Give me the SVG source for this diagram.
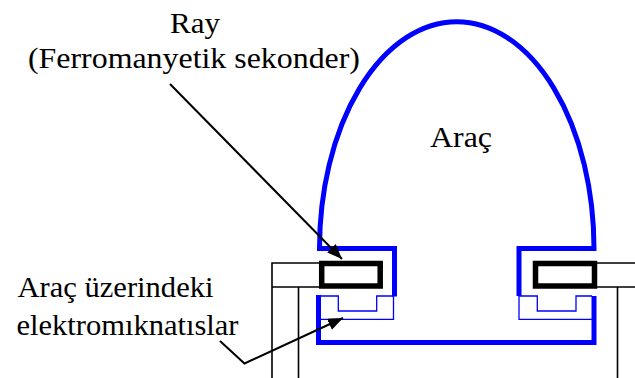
<svg xmlns="http://www.w3.org/2000/svg" width="635" height="378" viewBox="0 0 635 378">
  <style>
    text { font-family: 'Liberation Serif', 'DejaVu Serif', serif; font-size: 30px; fill: #000; }
    .hull { fill: none; stroke: #0000FF; stroke-width: 5; stroke-linejoin: miter; }
    .magnet { fill: none; stroke: #0000FF; stroke-width: 1.3; }
    .rail { fill: #fff; stroke: #000; stroke-width: 5.5; }
    .support { fill: none; stroke: #000; stroke-width: 1.6; }
    .leader { fill: none; stroke: #000; stroke-width: 2; }
  </style>
  <defs>
    <marker id="arrowhead" markerUnits="userSpaceOnUse" markerWidth="16" markerHeight="13" refX="15" refY="6" orient="auto">
      <path d="M0,0 L15,6 L0,12 Z" fill="#000"/>
    </marker>
  </defs>
  <rect width="635" height="378" fill="#fff"/>

  <!-- guideway supports -->
  <g id="support-left">
    <path class="support" d="M319,263 H272 V378 M272,287 H319 M298.5,287 V378"/>
  </g>
  <g id="support-right">
    <path class="support" d="M597,263 H635 M597,287 H635 M617.5,287 V378"/>
  </g>

  <!-- ferromagnetic secondary rails -->
  <g id="rail-left">
    <rect class="rail" x="321.7" y="263.5" width="58.5" height="22.5"/>
  </g>
  <g id="rail-right">
    <rect class="rail" x="535.5" y="263.5" width="59" height="22.5"/>
  </g>

  <!-- vehicle body -->
  <g id="vehicle">
    <path class="hull" d="M394.5,296.5 V248.5 H319.5 A137.25,226.8 0 0 1 594,248.5 H519 V296"/>
    <path class="hull" d="M318.5,295 V342.5 H594 V296"/>
    <text x="430" y="147" font-family="Liberation Serif, serif" textLength="62" lengthAdjust="spacingAndGlyphs">Araç</text>
  </g>

  <!-- on-board electromagnets -->
  <g id="magnet-left">
    <path class="magnet" d="M320,296 H338.3 V311 H376.7 V296 H393.5 V319.3 H320"/>
  </g>
  <g id="magnet-right">
    <path class="magnet" d="M592,296 H576 V311 H537.3 V296 H519 V319.3 H592"/>
  </g>

  <!-- labels -->
  <g id="label-rail">
    <text x="170" y="33" font-family="Liberation Serif, serif" textLength="50" lengthAdjust="spacingAndGlyphs">Ray</text>
    <text x="28" y="68" font-family="Liberation Serif, serif" textLength="332" lengthAdjust="spacingAndGlyphs">(Ferromanyetik sekonder)</text>
  </g>
  <g id="label-magnets">
    <text x="17.5" y="297" font-family="Liberation Serif, serif" textLength="196" lengthAdjust="spacingAndGlyphs">Araç üzerindeki</text>
    <text x="16.5" y="334.5" font-family="Liberation Serif, serif" textLength="222" lengthAdjust="spacingAndGlyphs">elektromıknatıslar</text>
  </g>

  <!-- leader arrows -->
  <g id="connectors">
    <line class="leader" x1="170" y1="84" x2="342" y2="259" marker-end="url(#arrowhead)"/>
    <polyline class="leader" points="220,341 244.5,363.5 343,318" marker-end="url(#arrowhead)"/>
  </g>
</svg>
